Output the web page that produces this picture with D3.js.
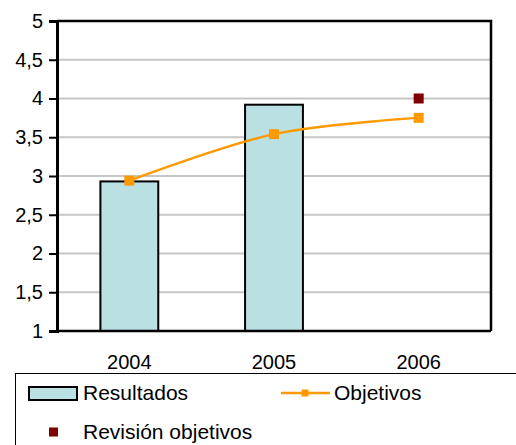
<!DOCTYPE html>
<html>
<head>
<meta charset="utf-8">
<script src="https://cdn.jsdelivr.net/npm/d3@7"></script>
<style>
  html, body { margin: 0; padding: 0; background: #fff; }
  svg { display: block; }
  text { font-family: "Liberation Sans", Arial, sans-serif; fill: #000; }
</style>
</head>
<body>
<svg id="chart" width="516" height="445"></svg>
<script>
const years = ["2004", "2005", "2006"];
const resultados = [2.93, 3.92, null];
const objetivos = [2.94, 3.54, 3.75];
const revision = [null, null, 4.0];
const yTicks = [1, 1.5, 2, 2.5, 3, 3.5, 4, 4.5, 5];
const legendLabels = ["Resultados", "Objetivos", "Revisión objetivos"];

const colBar = "#BAE0E3";
const colLine = "#FF9900";
const colRev = "#800000";
const fontSize = 20;
const legendFont = 21;

const svg = d3.select("#chart");
const pLeft = 57, pRight = 491, pTop = 21, pBottom = 331;

const x = d3.scalePoint().domain(years).range([pLeft, pRight]).padding(0.5);
const barW = x.step() * 0.4;
const y = d3.scaleLinear().domain([1, 5]).range([pBottom, pTop]);
const fmt = d => String(d).replace(".", ",");

// gridlines
svg.append("g").selectAll("line").data(yTicks.filter(t => t > 1 && t < 5)).join("line")
  .attr("x1", pLeft).attr("x2", pRight)
  .attr("y1", d => y(d)).attr("y2", d => y(d))
  .attr("stroke", "#C6C6C6").attr("stroke-width", 2);

// frame top & right
svg.append("path")
  .attr("d", `M${pLeft},${pTop}H${pRight}V${pBottom}`)
  .attr("fill", "none").attr("stroke", "#000").attr("stroke-width", 2.5);

// bars
svg.append("g").selectAll("rect")
  .data(years.map((yr, i) => ({ yr, v: resultados[i] })).filter(d => d.v != null))
  .join("rect")
  .attr("x", d => x(d.yr) - barW / 2)
  .attr("width", barW)
  .attr("y", d => y(d.v))
  .attr("height", d => y(1) - y(d.v))
  .attr("fill", colBar).attr("stroke", "#000").attr("stroke-width", 2);

// y axis
const yAxis = d3.axisLeft(y).tickValues(yTicks).tickFormat(fmt).tickSize(8).tickPadding(6);
const gy = svg.append("g").attr("transform", `translate(${pLeft},0)`).call(yAxis);
gy.select(".domain").attr("stroke", "#000").attr("stroke-width", 3);
gy.selectAll(".tick line").attr("stroke", "#000").attr("stroke-width", 2);
gy.selectAll(".tick text").attr("font-size", fontSize).attr("font-family", "Liberation Sans, Arial, sans-serif").attr("fill", "#000");

// x axis (baseline)
svg.append("line").attr("x1", pLeft).attr("x2", pRight).attr("y1", pBottom).attr("y2", pBottom)
  .attr("stroke", "#000").attr("stroke-width", 2.5);
svg.append("g").selectAll("text").data(years).join("text")
  .attr("x", d => x(d)).attr("y", 369)
  .attr("text-anchor", "middle").attr("font-size", fontSize).text(d => d);

// objetivos line
const objData = years.map((yr, i) => ({ yr, v: objetivos[i] })).filter(d => d.v != null);
svg.append("path").datum(objData)
  .attr("d", d3.line().x(d => x(d.yr)).y(d => y(d.v)).curve(d3.curveCatmullRom.alpha(0.5)))
  .attr("fill", "none").attr("stroke", colLine).attr("stroke-width", 2.5);
svg.append("g").selectAll("rect").data(objData).join("rect")
  .attr("x", d => x(d.yr) - 5).attr("y", d => y(d.v) - 5)
  .attr("width", 10).attr("height", 10).attr("fill", colLine);

// revision markers
const revData = years.map((yr, i) => ({ yr, v: revision[i] })).filter(d => d.v != null);
svg.append("g").selectAll("rect").data(revData).join("rect")
  .attr("x", d => x(d.yr) - 5).attr("y", d => y(d.v) - 5)
  .attr("width", 10).attr("height", 10).attr("fill", colRev);

// legend
const lg = svg.append("g");
lg.append("rect").attr("x", 15.5).attr("y", 373.5).attr("width", 520).attr("height", 100)
  .attr("fill", "none").attr("stroke", "#000").attr("stroke-width", 1);
lg.append("rect").attr("x", 29).attr("y", 387).attr("width", 48).attr("height", 13)
  .attr("fill", colBar).attr("stroke", "#000").attr("stroke-width", 2);
lg.append("text").attr("x", 83).attr("y", 400).attr("font-size", legendFont).text(legendLabels[0]);
lg.append("line").attr("x1", 281).attr("x2", 330).attr("y1", 393).attr("y2", 393)
  .attr("stroke", colLine).attr("stroke-width", 2.5);
lg.append("rect").attr("x", 301.5).attr("y", 389.5).attr("width", 7).attr("height", 7).attr("fill", colLine);
lg.append("text").attr("x", 334).attr("y", 400).attr("font-size", legendFont).text(legendLabels[1]);
lg.append("rect").attr("x", 49).attr("y", 427.5).attr("width", 9).attr("height", 9).attr("fill", colRev);
lg.append("text").attr("x", 83).attr("y", 439).attr("font-size", legendFont).text(legendLabels[2]);
</script>
</body>
</html>
